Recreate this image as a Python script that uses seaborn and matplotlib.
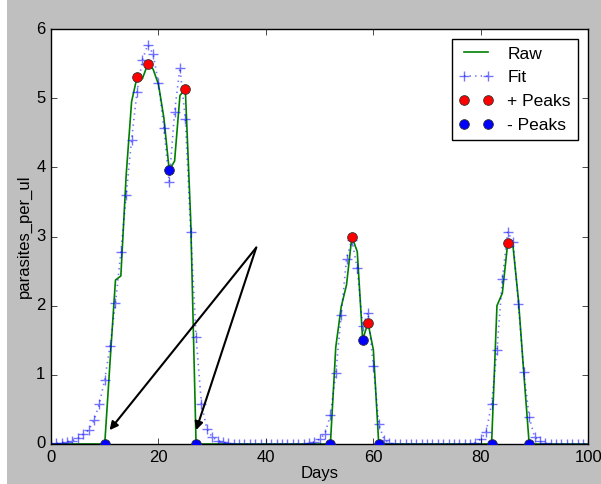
import matplotlib
matplotlib.use("Agg")
import matplotlib.pyplot as plt
from matplotlib.patches import Rectangle
import seaborn as sns

# Daily observations and smoothed fit of parasite density
days = list(range(101))

raw_vals = [
    0, 0, 0, 0, 0, 0, 0, 0, 0, 0,                       # 0-9
    0, 1.2, 2.37, 2.43, 3.9, 4.95, 5.3, 5.28, 5.49, 5.42,  # 10-19
    5.2, 4.72, 3.96, 4.09, 5.04, 5.13, 3.24, 0, 0, 0,      # 20-29
    0, 0, 0, 0, 0, 0, 0, 0, 0, 0,                       # 30-39
    0, 0, 0, 0, 0, 0, 0, 0, 0, 0,                       # 40-49
    0, 0, 0, 1.4, 1.98, 2.3, 3.0, 2.78, 1.51, 1.75,        # 50-59
    1.36, 0, 0, 0, 0, 0, 0, 0, 0, 0,                    # 60-69
    0, 0, 0, 0, 0, 0, 0, 0, 0, 0,                       # 70-79
    0, 0, 0, 2.0, 2.18, 2.9, 2.85, 2.08, 1.02, 0,          # 80-89
    0, 0, 0, 0, 0, 0, 0, 0, 0, 0,                       # 90-99
    0,                                                  # 100
]

fit_vals = [
    0.0, 0.01, 0.02, 0.03, 0.05, 0.08, 0.14, 0.2, 0.34, 0.58,     # 0-9
    0.93, 1.42, 2.04, 2.77, 3.6, 4.4, 5.09, 5.55, 5.77, 5.64,     # 10-19
    5.22, 4.57, 3.79, 4.8, 5.44, 4.7, 3.07, 1.55, 0.58, 0.22,     # 20-29
    0.1, 0.05, 0.03, 0.01, 0, 0, 0, 0, 0, 0,                      # 30-39
    0, 0, 0, 0, 0, 0, 0, 0, 0.01, 0.03,                           # 40-49
    0.07, 0.15, 0.42, 1.02, 1.86, 2.68, 2.95, 2.54, 1.7, 1.9,     # 50-59
    1.13, 0.29, 0.06, 0.01, 0, 0, 0, 0, 0, 0,                     # 60-69
    0, 0, 0, 0, 0, 0, 0, 0, 0, 0.02,                              # 70-79
    0.07, 0.18, 0.58, 1.36, 2.38, 3.07, 2.92, 2.02, 1.04, 0.39,   # 80-89
    0.1, 0.04, 0.01, 0, 0, 0, 0, 0, 0, 0,                         # 90-99
    0,                                                            # 100
]

# Detected local maxima / minima of the raw series
pos_peak_days = [16, 18, 25, 56, 59, 85]
neg_peak_days = [10, 22, 27, 52, 58, 61, 82, 89]
pos_peak_vals = [raw_vals[d] for d in pos_peak_days]
neg_peak_vals = [raw_vals[d] for d in neg_peak_days]

# Arrow annotation: common tail and the two heads
arrow_tail = (38.2, 2.84)
arrow_heads = [(10.9, 0.2), (27.0, 0.2)]

x_ticks = [0, 20, 40, 60, 80, 100]
y_ticks = [0, 1, 2, 3, 4, 5, 6]

plt.style.use("classic")
plt.rcParams["font.family"] = ["Liberation Sans", "DejaVu Sans"]

fig = plt.figure(figsize=(6.01, 4.84), dpi=100, facecolor="#bfbfbf")
fig.patches.append(Rectangle((0, 0), 7 / 601, 1, transform=fig.transFigure,
                             facecolor="white", edgecolor="none", zorder=-10))
ax = fig.add_axes([51 / 601, 40 / 484, 537.3 / 601, 415 / 484])

sns.lineplot(x=days, y=raw_vals, color="g", linewidth=1.2, label="Raw",
             ax=ax, estimator=None, sort=False)
sns.lineplot(x=days, y=fit_vals, color="b", linestyle=":", linewidth=1.2,
             marker="+", markersize=7, markeredgewidth=1.0,
             markeredgecolor="b", alpha=0.55,
             label="Fit", ax=ax, estimator=None, sort=False)
sns.lineplot(x=pos_peak_days, y=pos_peak_vals, color="r", linestyle="none",
             marker="o", markersize=7, markeredgecolor="#333333",
             markeredgewidth=0.6, label="+ Peaks", ax=ax, estimator=None,
             sort=False, zorder=5)
sns.lineplot(x=neg_peak_days, y=neg_peak_vals, color="b", linestyle="none",
             marker="o", markersize=7, markeredgecolor="#333333",
             markeredgewidth=0.6, label="- Peaks", ax=ax, estimator=None,
             sort=False, zorder=5)

for head in arrow_heads:
    ax.annotate("", xy=head, xytext=arrow_tail,
                arrowprops=dict(arrowstyle="-|>", color="k", lw=1.5,
                                mutation_scale=12, shrinkA=0, shrinkB=0))

ax.set_xlim(0, 100)
ax.set_ylim(0, 6)
ax.set_xticks(x_ticks)
ax.set_yticks(y_ticks)
ax.tick_params(labelsize=12)
ax.set_xlabel("Days", fontsize=12, labelpad=1)
ax.set_ylabel("parasites_per_ul", fontsize=12)
ax.yaxis.set_label_coords(-0.036, 0.5)

leg = ax.legend(loc="upper right", numpoints=2, fontsize=12.5,
                borderaxespad=0.6, handlelength=2.0, handletextpad=0.8,
                labelspacing=0.5, borderpad=0.4,
                frameon=True, fancybox=False)
leg.get_frame().set_edgecolor("black")

fig.savefig("out.png", dpi=100, facecolor=fig.get_facecolor())
